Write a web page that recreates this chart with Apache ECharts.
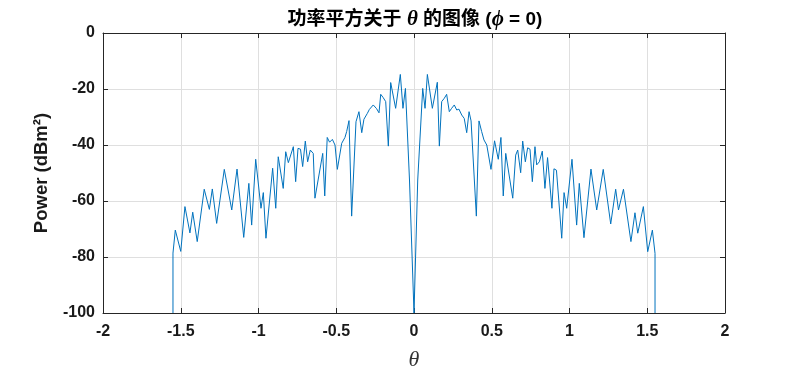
<!DOCTYPE html>
<html><head><meta charset="utf-8">
<script src="https://cdn.jsdelivr.net/npm/echarts@6/dist/echarts.min.js"></script>
<style>html,body{margin:0;padding:0;background:#fff}#c{width:799px;height:370px}</style>
</head><body><div id="c"></div>
<script>
// theta (rad) and power (dBm^2)
const thetaLeft = [-1.550,-1.550,-1.535,-1.500,-1.473,-1.441,-1.423,-1.394,-1.349,-1.316,-1.297,-1.269,-1.220,-1.172,-1.138,-1.095,-1.062,-1.044,-1.018,-0.984,-0.969,-0.952,-0.909,-0.889,-0.873,-0.841,-0.825,-0.808,-0.776,-0.761,-0.746,-0.730,-0.716,-0.699,-0.684,-0.667,-0.648,-0.637,-0.587,-0.574,-0.558,-0.543,-0.525,-0.508,-0.493,-0.465,-0.444,-0.433,-0.418,-0.401,-0.373,-0.354,-0.336,-0.322,-0.300,-0.287,-0.275,-0.262,-0.241,-0.225,-0.214,-0.199,-0.182,-0.165,-0.150,-0.118,-0.088,-0.071,-0.055,-0.029,0];
const powerLeft = [-100,-78.6,-70.4,-78,-62,-71.4,-64,-74.5,-55.8,-63,-55.7,-68,-48.7,-63.2,-48.6,-73,-53.7,-68.6,-45.1,-62.6,-57,-73.3,-48.3,-62.6,-44.2,-55.5,-42.4,-46.3,-40.6,-53.1,-41.2,-41.5,-47.7,-38.6,-46,-41.8,-43,-59,-43,-58.2,-37.3,-39,-38,-40,-48.7,-39.4,-37.3,-35.2,-31.3,-65.4,-31.7,-28.1,-35.6,-30.8,-28.7,-27.3,-27.8,-25.7,-27,-28.5,-21.9,-23,-24.5,-40.4,-17.7,-26.9,-14.8,-26.9,-19.8,-52.5,-100];
const thetaRight = [0.024,0.056,0.071,0.086,0.118,0.150,0.163,0.178,0.195,0.210,0.227,0.242,0.259,0.275,0.289,0.307,0.323,0.339,0.354,0.367,0.401,0.418,0.435,0.450,0.468,0.495,0.518,0.542,0.559,0.574,0.590,0.635,0.654,0.667,0.686,0.699,0.716,0.731,0.746,0.761,0.778,0.789,0.806,0.825,0.842,0.859,0.870,0.887,0.900,0.916,0.950,0.965,0.982,1.016,1.046,1.063,1.093,1.138,1.175,1.217,1.265,1.297,1.315,1.347,1.395,1.421,1.439,1.475,1.503,1.533,1.550,1.550];
const powerRight = [-52.5,-19.8,-26.9,-14.8,-26.9,-17.6,-40.4,-24.5,-23.3,-21.9,-28.1,-26.9,-25.7,-27.5,-27.2,-29.3,-30.5,-35.6,-28.1,-31.4,-65.4,-31.4,-35.2,-38.2,-40,-48.7,-38.5,-45.1,-37.3,-58.2,-43,-59,-43.6,-41.8,-49.9,-38.6,-46,-41,-41.5,-53.1,-40.6,-47.1,-46,-42.2,-55.5,-44.5,-44.2,-62.6,-48.5,-49,-73.3,-57,-62.6,-45.1,-68.6,-53.7,-73.1,-48.6,-63.2,-48.7,-68.2,-55.8,-63.2,-55.8,-74.5,-64.2,-71.5,-62,-78.1,-70.4,-78.7,-100];

const xMin = -2, xMax = 2, xStep = 0.5;
const yMin = -100, yMax = 0, yStep = 20;

const theta = thetaLeft.concat(thetaRight);
const power = powerLeft.concat(powerRight);
const seriesData = theta.map((t, i) => [t, power[i]]);

const axisColor = '#262626';
const labelFont = {color: '#1a1a1a', fontSize: 16, fontWeight: 'bold', fontFamily: 'Liberation Sans, Arial, sans-serif'};

const chart = echarts.init(document.getElementById('c'), null, {renderer: 'canvas'});
chart.setOption({
  animation: false,
  backgroundColor: '#ffffff',
  title: {
    text: '{b|功率平方关于 }{i|θ}{b| 的图像 (}{i|ϕ}{b| = 0)}',
    left: 410, top: 4, textAlign: 'center',
    textStyle: {
      rich: {
        b: {fontSize: 19, fontWeight: 'bold', color: '#000', fontFamily: 'Liberation Sans, "Noto Sans CJK SC", sans-serif'},
        i: {fontSize: 21, fontStyle: 'italic', color: '#000', fontFamily: 'Liberation Serif, "Times New Roman", serif'}
      }
    }
  },
  grid: {left: 103, right: 74, top: 33, bottom: 57, containLabel: false, outerBoundsMode: 'none'},
  xAxis: [{
    type: 'value', position: 'bottom', min: xMin, max: xMax, interval: xStep,
    axisLine: {show: true, onZero: false, lineStyle: {color: axisColor, width: 1}},
    axisTick: {show: true, inside: true, length: 5, lineStyle: {color: axisColor}},
    axisLabel: Object.assign({margin: 11}, labelFont),
    splitLine: {show: true, lineStyle: {color: '#dfdfdf', width: 1}},
    name: 'θ', nameLocation: 'middle', nameGap: 36,
    nameTextStyle: {fontFamily: 'Liberation Serif, "Times New Roman", serif', fontStyle: 'italic', fontSize: 22, color: '#333'}
  }, {
    type: 'value', position: 'top', min: xMin, max: xMax, interval: xStep,
    axisLine: {show: true, onZero: false, lineStyle: {color: axisColor, width: 1}},
    axisTick: {show: true, inside: true, length: 5, lineStyle: {color: axisColor}},
    axisLabel: {show: false}, splitLine: {show: false}
  }],
  yAxis: [{
    type: 'value', position: 'left', min: yMin, max: yMax, interval: yStep,
    axisLine: {show: true, onZero: false, lineStyle: {color: axisColor, width: 1}},
    axisTick: {show: true, inside: true, length: 5, lineStyle: {color: axisColor}},
    axisLabel: Object.assign({margin: 8}, labelFont),
    splitLine: {show: true, lineStyle: {color: '#dfdfdf', width: 1}},
    name: 'Power (dBm²)', nameLocation: 'middle', nameGap: 52, nameRotate: 90,
    nameTextStyle: {fontFamily: 'Liberation Sans, Arial, sans-serif', fontWeight: 'bold', fontSize: 18.5, color: '#1a1a1a'}
  }, {
    type: 'value', position: 'right', min: yMin, max: yMax, interval: yStep,
    axisLine: {show: true, onZero: false, lineStyle: {color: axisColor, width: 1}},
    axisTick: {show: true, inside: true, length: 5, lineStyle: {color: axisColor}},
    axisLabel: {show: false}, splitLine: {show: false}
  }],
  series: [{
    type: 'line', xAxisIndex: 0, yAxisIndex: 0,
    data: seriesData, showSymbol: false, symbol: 'none', clip: true,
    lineStyle: {color: '#0072BD', width: 1}, itemStyle: {color: '#0072BD'}
  }]
});
</script></body></html>
